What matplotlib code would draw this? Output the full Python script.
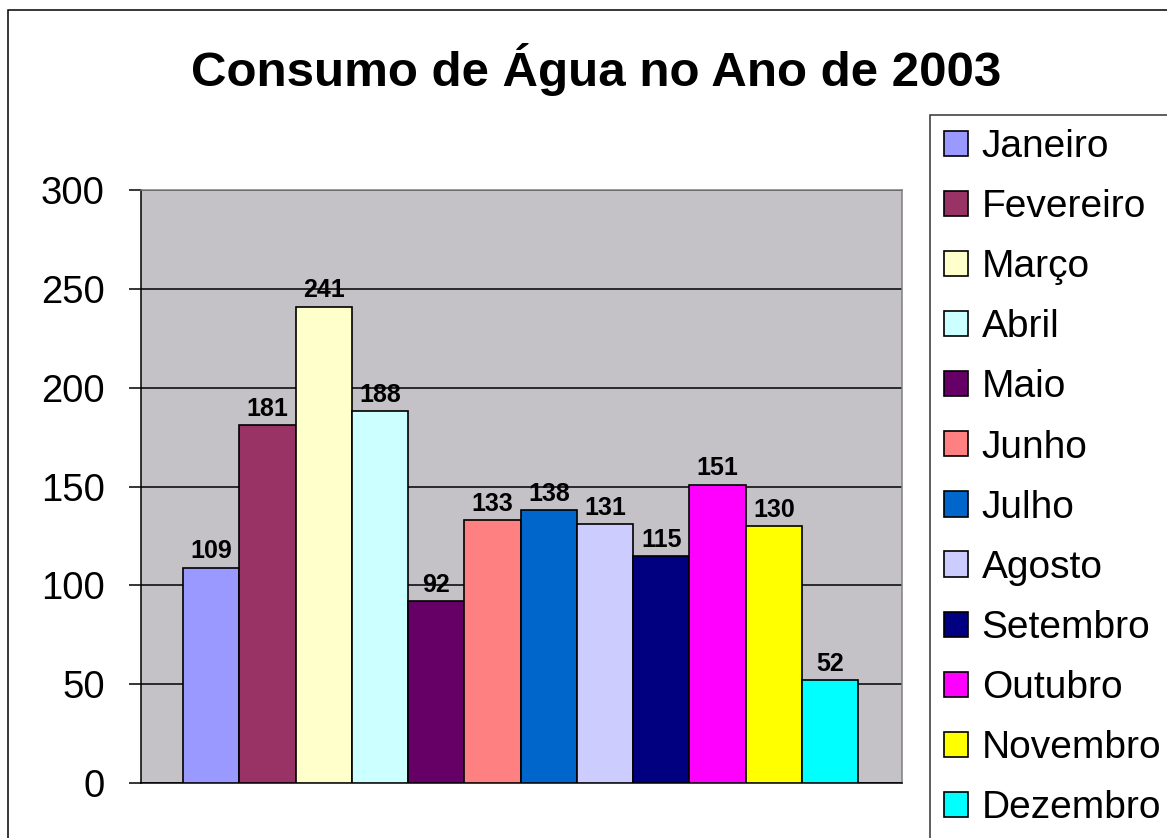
import matplotlib.pyplot as plt
from matplotlib.patches import Rectangle

months = ["Janeiro", "Fevereiro", "Março", "Abril", "Maio", "Junho",
          "Julho", "Agosto", "Setembro", "Outubro", "Novembro", "Dezembro"]
consumo = [109, 181, 241, 188, 92, 133, 138, 131, 115, 151, 130, 52]
colors = ["#9999FF", "#993366", "#FFFFCC", "#CCFFFF", "#660066", "#FF8080",
          "#0066CC", "#CCCCFF", "#000080", "#FF00FF", "#FFFF00", "#00FFFF"]
yticks = [0, 50, 100, 150, 200, 250, 300]


def main():
    plt.rcParams["font.family"] = ["Liberation Sans", "DejaVu Sans"]
    fig = plt.figure(figsize=(11.67, 8.38), dpi=100)
    ax = fig.add_axes([141 / 1167, 1 - 783 / 838, 761 / 1167, 593 / 838])
    ax.set_facecolor("#C4C2C6")

    for i, (name, val, col) in enumerate(zip(months, consumo, colors)):
        b = ax.bar(i, val, width=1.0, color=col, edgecolor="black",
                   linewidth=1.2, label=name, zorder=3)
        ax.bar_label(b, labels=[str(val)], padding=3, fontsize=18,
                     fontweight="bold", zorder=4)

    ax.set_xlim(-1.25, 12.28)
    ax.set_ylim(0, 300)
    ax.set_yticks(yticks)
    ax.set_xticks([])
    ax.grid(axis="y", color="black", linewidth=1.1, zorder=1)
    ax.set_axisbelow(True)
    ax.tick_params(axis="y", direction="out", length=9, width=1.1,
                   pad=17, labelsize=27.5)
    ax.spines["left"].set_color("black")
    ax.spines["bottom"].set_color("black")
    ax.spines["top"].set_color("#808080")
    ax.spines["right"].set_color("#808080")
    for s in ax.spines.values():
        s.set_linewidth(1.1)

    fig.text(596 / 1167, 1 - 70 / 838, "Consumo de Água no Ano de 2003",
             ha="center", va="center", fontsize=35.5, fontweight="bold")

    leg = fig.legend(loc="upper left", bbox_to_anchor=(930 / 1167, 1 - 115 / 838),
                     fontsize=28, handlelength=0.62, handleheight=0.62,
                     handletextpad=0.35, labelspacing=0.62, borderpad=0.36,
                     borderaxespad=0, frameon=True, fancybox=False)
    leg.get_frame().set_edgecolor("black")
    leg.get_frame().set_linewidth(1.1)

    # chart border
    fig.add_artist(Rectangle((8 / 1167, -0.2), 2, 1.2 - 10 / 838,
                             transform=fig.transFigure, fill=False,
                             edgecolor="black", linewidth=1.1))

    fig.savefig("out.png", dpi=100)


if __name__ == "__main__":
    main()
